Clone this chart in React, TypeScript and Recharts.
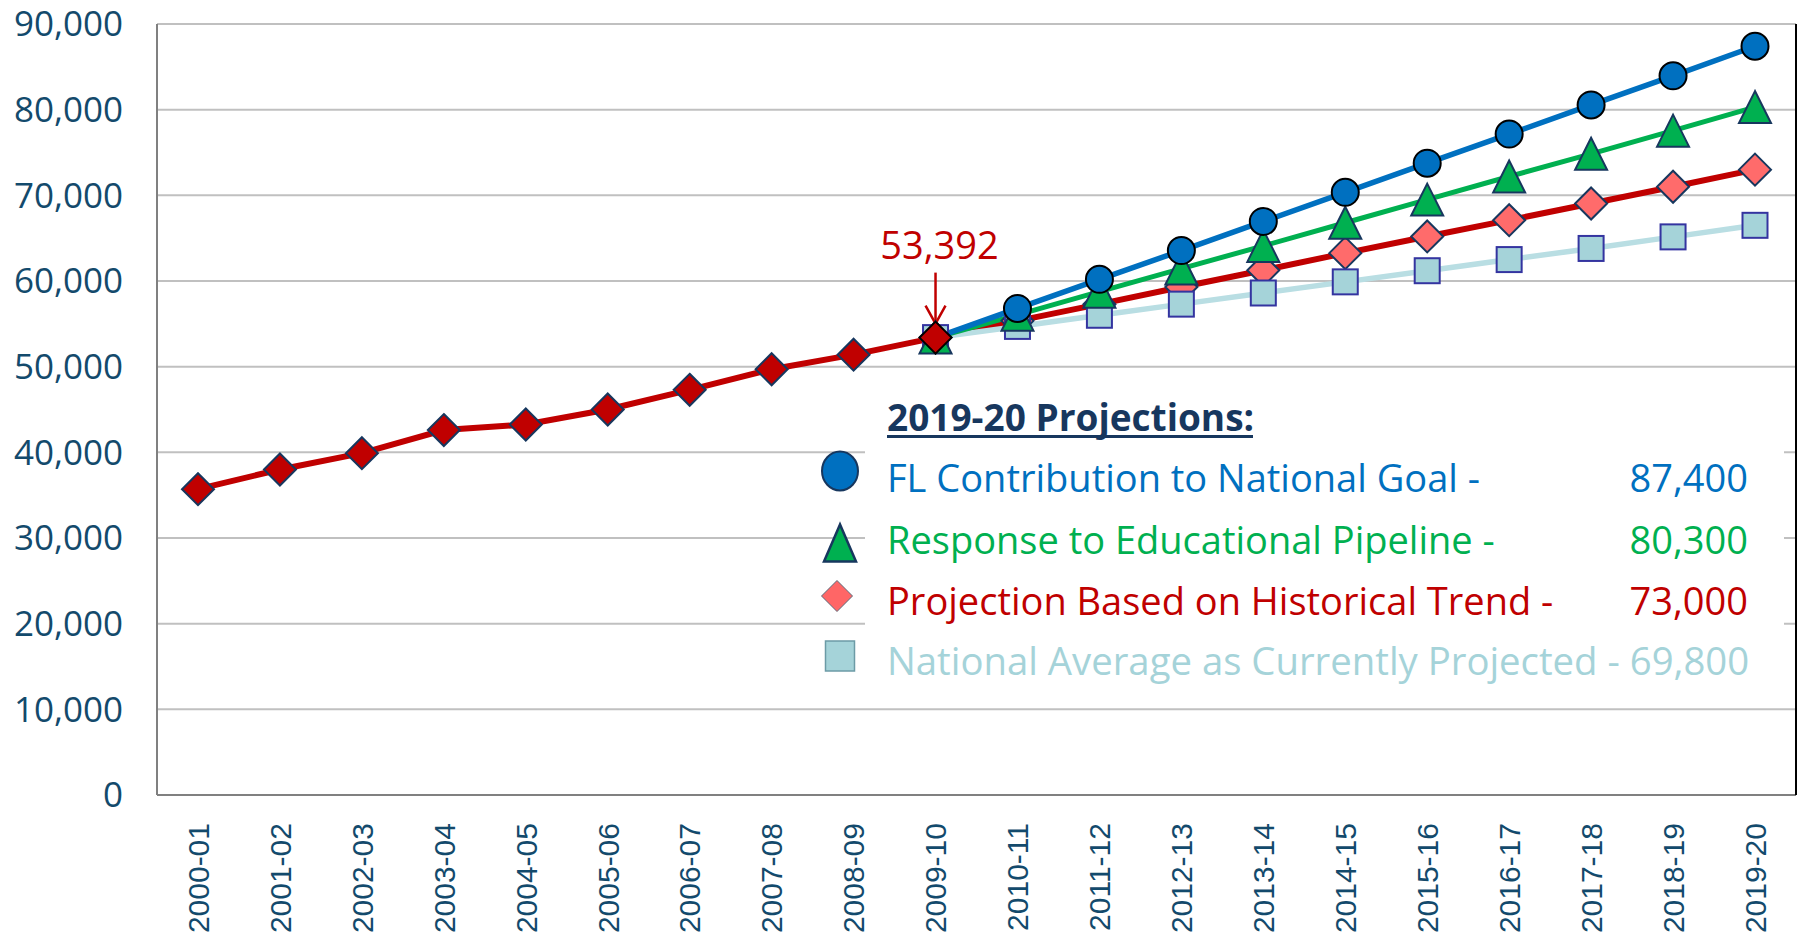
import React from 'react';
import { LineChart, Line, XAxis, YAxis, CartesianGrid, ReferenceDot, Legend } from 'recharts';

const categories = [
  '2000-01', '2001-02', '2002-03', '2003-04', '2004-05', '2005-06', '2006-07', '2007-08', '2008-09', '2009-10',
  '2010-11', '2011-12', '2012-13', '2013-14', '2014-15', '2015-16', '2016-17', '2017-18', '2018-19', '2019-20',
];
const N = null;
const historical = [35700, 38000, 39900, 42600, 43250, 45000, 47300, 49700, 51400, 53392, N, N, N, N, N, N, N, N, N, N];
const nationalGoal = [N, N, N, N, N, N, N, N, N, 53392, 56800, 60200, 63550, 66950, 70350, 73750, 77150, 80550, 83950, 87400];
const pipeline = [N, N, N, N, N, N, N, N, N, 53392, 56050, 58750, 61450, 64100, 66800, 69500, 72200, 74850, 77550, 80300];
const historicalTrend = [N, N, N, N, N, N, N, N, N, 53392, 55350, 57300, 59300, 61250, 63250, 65200, 67100, 69050, 71000, 73000];
const nationalAverage = [N, N, N, N, N, N, N, N, N, 53392, 54700, 56000, 57300, 58600, 59900, 61200, 62500, 63800, 65150, 66500];
const yTicks = [0, 10000, 20000, 30000, 40000, 50000, 60000, 70000, 80000, 90000];

const legendTitle = '2019-20 Projections:';
const legendRows = [
  { label: 'FL Contribution to National Goal -', value: '87,400', color: '#0070C0' },
  { label: 'Response to Educational Pipeline -', value: '80,300', color: '#00B050' },
  { label: 'Projection Based on Historical Trend -', value: '73,000', color: '#C00000' },
  { label: 'National Average as Currently Projected - 69,800', value: '', color: '#A5D3D9' },
];
const annotationText = '53,392';

const data = categories.map((cat, i) => ({
  cat,
  historical: historical[i],
  goal: nationalGoal[i],
  pipeline: pipeline[i],
  trend: historicalTrend[i],
  national: nationalAverage[i],
}));

const FONT = "'Open Sans', 'DejaVu Sans', sans-serif";
const AXIS_COLOR = '#134A6C';

const makeDot = (kind: string, skip: number[] = []) => (props: any) => {
  const { cx, cy, index } = props;
  const key = `${kind}-${index}`;
  if (cx == null || cy == null || skip.includes(index)) return <g key={key} />;
  if (kind === 'circle') {
    return <circle key={key} cx={cx} cy={cy} r={13.5} fill="#0070C0" stroke="#000" strokeWidth={2} />;
  }
  if (kind === 'triangle') {
    const h = 16;
    return (
      <polygon key={key} points={`${cx},${cy - h} ${cx - h},${cy + h} ${cx + h},${cy + h}`}
        fill="#00B050" stroke="#17375E" strokeWidth={2} strokeLinejoin="miter" />
    );
  }
  if (kind === 'square') {
    const h = 12.5;
    return <rect key={key} x={cx - h} y={cy - h} width={2 * h} height={2 * h} fill="#A5D3D9" stroke="#3434A0" strokeWidth={2} />;
  }
  const h = 16;
  const isHist = kind === 'histDiamond';
  const fill = isHist ? '#C00000' : '#FF6B6B';
  const stroke = isHist && index === 9 ? '#000' : '#17375E';
  return (
    <polygon key={key} points={`${cx},${cy - h} ${cx + h},${cy} ${cx},${cy + h} ${cx - h},${cy}`}
      fill={fill} stroke={stroke} strokeWidth={2} />
  );
};

const XTick = (props: any) => {
  const { x, y, payload } = props;
  return (
    <text x={x} y={y} dy="0.36em" transform={`rotate(-90, ${x}, ${y})`} textAnchor="end"
      fontFamily="'Liberation Sans', Arial, sans-serif" fontSize={30} fill={AXIS_COLOR}>
      {payload.value}
    </text>
  );
};

const Annotation = (props: any) => {
  const { cx, cy } = props;
  if (cx == null || cy == null) return <g />;
  const top = cy - 65;
  const tip = cy - 14;
  return (
    <g>
      <text x={cx + 4} y={cy - 79} textAnchor="middle" fontFamily={FONT} fontSize={38} fill="#C00000">
        {annotationText}
      </text>
      <line x1={cx} y1={top} x2={cx} y2={tip} stroke="#C00000" strokeWidth={2.5} />
      <polyline points={`${cx - 10},${tip - 18} ${cx},${tip} ${cx + 10},${tip - 18}`} fill="none" stroke="#C00000" strokeWidth={2.5} />
    </g>
  );
};

const LegendBox = () => {
  const rowY = [477, 539, 600, 660];
  return (
    <svg width={1801} height={940} style={{ position: 'absolute', left: 0, top: 0, overflow: 'visible' }}>
      <rect x={865} y={384} width={919} height={306} fill="#fff" />
      <text x={887} y={416} dominantBaseline="central" fontFamily={FONT} fontWeight={700} fontSize={37} fill="#17375E">
        {legendTitle}
      </text>
      <rect x={887} y={435} width={366} height={3} fill="#17375E" />
      <ellipse cx={840} cy={471} rx={18} ry={19.5} fill="#0070C0" stroke="#17375E" strokeWidth={2} />
      <polygon points="840,524.5 824,561.5 856,561.5" fill="#00B050" stroke="#17375E" strokeWidth={2.5} />
      <polygon points="837,580.5 852.5,596 837,611.5 821.5,596" fill="#FF6666" stroke="#5A6A7A" strokeWidth={1} />
      <rect x={825.5} y={641} width={29} height={30} fill="#A5D3D9" stroke="#6C9BA6" strokeWidth={1.5} />
      {legendRows.map((r, i) => (
        <g key={r.label}>
          <text x={887} y={rowY[i]} dominantBaseline="central" fontFamily={FONT} fontSize={i === 3 ? 38.3 : 38} fill={r.color}>
            {r.label}
          </text>
          {r.value && (
            <text x={1748} y={rowY[i]} dominantBaseline="central" textAnchor="end" fontFamily={FONT} fontSize={38} fill={r.color}>
              {r.value}
            </text>
          )}
        </g>
      ))}
    </svg>
  );
};

export default function App() {
  return (
    <div style={{ position: 'relative', width: 1801, height: 940, background: '#fff' }}>
      <style>{`body{margin:0;background:#fff}`}</style>
      <LineChart width={1801} height={940} data={data} margin={{ top: 24, right: 0, left: 0, bottom: 0 }}>
        <CartesianGrid vertical={false} stroke="#C0C0C0" strokeWidth={2} />
        <XAxis dataKey="cat" height={145} padding={{ left: 41, right: 41 }} tickSize={0} tickMargin={28}
          interval={0} tick={<XTick />} axisLine={{ stroke: '#808080', strokeWidth: 2 }} tickLine={false} />
        <XAxis xAxisId="top" dataKey="cat" orientation="top" height={0} tick={false} tickLine={false}
          axisLine={{ stroke: '#000', strokeWidth: 2 }} />
        <YAxis width={157} domain={[0, 90000]} ticks={yTicks} interval={0} tickSize={0} tickMargin={34}
          tickFormatter={(v: number) => v.toLocaleString('en-US')} tickLine={false}
          axisLine={{ stroke: '#808080', strokeWidth: 2 }}
          tick={{ fontFamily: FONT, fontSize: 35, fill: AXIS_COLOR }} />
        <YAxis yAxisId="right" orientation="right" width={5} tick={false} tickLine={false}
          axisLine={{ stroke: '#000', strokeWidth: 2 }} />
        <Line dataKey="trend" type="linear" stroke="#C00000" strokeWidth={6} dot={makeDot('diamond')}
          activeDot={false} isAnimationActive={false} />
        <Line dataKey="national" type="linear" stroke="#B9DEE3" strokeWidth={5.5} dot={makeDot('square')}
          activeDot={false} isAnimationActive={false} />
        <Line dataKey="pipeline" type="linear" stroke="#00B050" strokeWidth={5} dot={makeDot('triangle')}
          activeDot={false} isAnimationActive={false} />
        <Line dataKey="goal" type="linear" stroke="#0070C0" strokeWidth={5.5} dot={makeDot('circle', [9])}
          activeDot={false} isAnimationActive={false} />
        <Line dataKey="historical" type="linear" stroke="#C00000" strokeWidth={6} dot={makeDot('histDiamond')}
          activeDot={false} isAnimationActive={false} />
        <ReferenceDot x="2009-10" y={53392} r={0} shape={<Annotation />} />
        <Legend layout="horizontal" verticalAlign="middle" align="center" content={() => <LegendBox />}
          wrapperStyle={{ position: 'absolute', left: 0, top: 0, width: 1801, height: 940, pointerEvents: 'none' }} />
      </LineChart>
    </div>
  );
}
